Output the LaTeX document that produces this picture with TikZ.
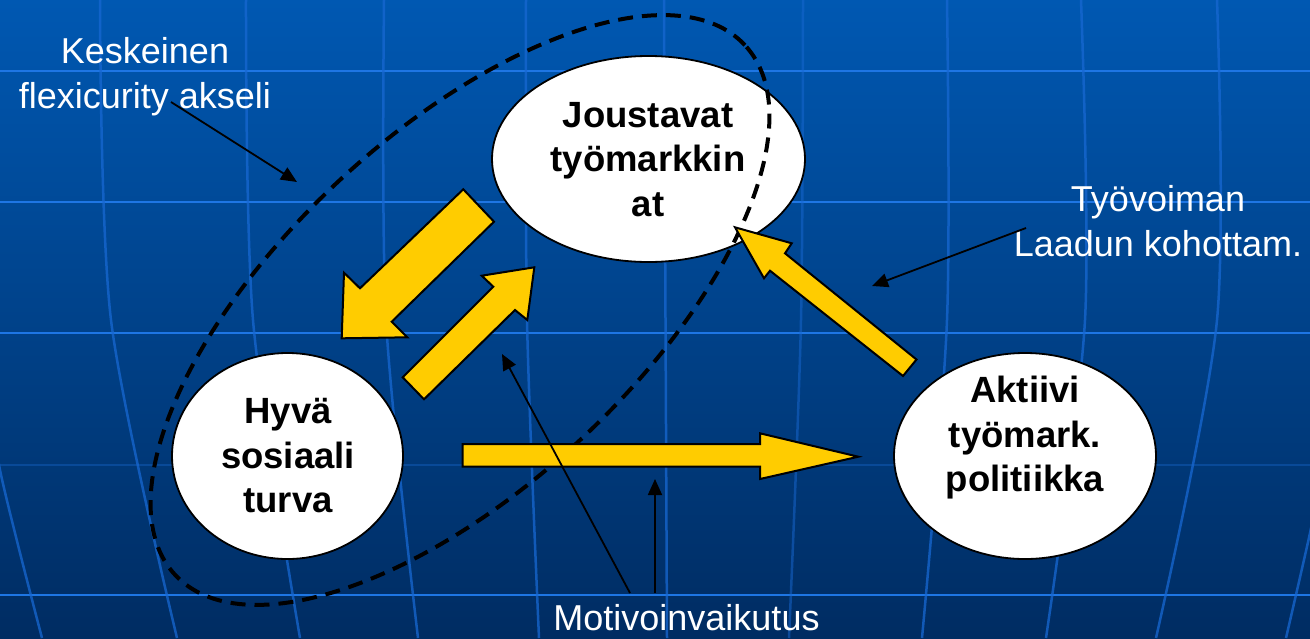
\documentclass[tikz,border=0pt]{standalone}
\usepackage{fontspec}
\setmainfont{Liberation Sans}
\usetikzlibrary{arrows.meta,shapes.geometric}
\definecolor{bgtop}{RGB}{0,88,178}
\definecolor{bgbot}{RGB}{0,44,98}
\definecolor{gridh}{RGB}{30,118,228}
\definecolor{gridv}{RGB}{24,104,210}
\definecolor{arrowyellow}{RGB}{255,204,0}
\begin{document}
\begin{tikzpicture}[x=1pt,y=-1pt,
 bubble/.style={ellipse, draw=black, line width=1.8pt, fill=white, inner sep=0pt, minimum height=206pt},
 bubtext/.style={font=\fontsize{36.5}{44.5}\selectfont\bfseries, align=center, text=black, inner sep=0pt},
 lbl/.style={font=\fontsize{36}{45}\selectfont, align=center, text=white, inner sep=0pt},
 blockarrow/.style={fill=arrowyellow, draw=black, line width=2pt, line join=miter},
 pointer/.style={draw=black, line width=1.8pt, -{Triangle[length=16pt,width=14pt]}},
 axisloop/.style={draw=black, line width=4pt, dash pattern=on 15pt off 9pt},
 hgrid/.style={draw=gridh, line width=2.8pt},
 vgrid/.style={draw=gridv, line width=2.5pt, opacity=0.75}]

% background
\useasboundingbox (0,0) rectangle (1310,638);
\shade[top color=bgtop, bottom color=bgbot] (0,0) rectangle (1310,638);
\begin{scope}
\clip (0,0) rectangle (1310,638);
\foreach \yy in {71,202,333,595} \draw[hgrid] (0,\yy) -- (1310,\yy);
\draw[hgrid, opacity=0.3] (0,465) -- (1310,465);
\draw[vgrid] plot[smooth] coordinates {(100,0) (111,320) (177,638)};
\draw[vgrid] plot[smooth] coordinates {(246,0) (253,320) (300,638)};
\draw[vgrid] plot[smooth] coordinates {(384,0) (386,320) (418,638)};
\draw[vgrid] plot[smooth] coordinates {(526,0) (527,320) (539,638)};
\draw[vgrid] (664,0) -- (667,638);
\draw[vgrid, opacity=0.5] plot[smooth] coordinates {(803,0) (801,320) (789,638)};
\draw[vgrid] plot[smooth] coordinates {(947,0) (947,320) (922,638)};
\draw[vgrid] plot[smooth] coordinates {(1081,0) (1085,320) (1046,638)};
\draw[vgrid] plot[smooth] coordinates {(1217,0) (1217,320) (1156,638)};
\draw[vgrid] plot[smooth] coordinates {(-10,380) (0,470) (42,638)};
\draw[vgrid] plot[smooth] coordinates {(1320,480) (1310,533) (1286,638)};
\end{scope}

% bubbles
\node[bubble, minimum width=313pt] (jous) at (648.5,159) {};
\node[bubble, minimum width=231pt] (hyva) at (287.5,456) {};
\node[bubble, minimum width=262pt] (akt) at (1025,456) {};
\node[bubtext] (joustxt) at (648,159.2) {Joustavat\\työmarkkin\\at};
\node[bubtext] (hyvatxt) at (288,456) {Hyvä\\sosiaali\\turva};
\node[bubtext] (akttxt) at (1025,438) {Aktiivi\\työmark.\\politiikka};

% dashed flexicurity axis loop
\draw[axisloop, rotate around={42.9:(460,310)}] (460,310) ellipse [x radius=389pt, y radius=177pt];

% block arrows
\draw[blockarrow] (463.3,189.3) -- (360,288.3) -- (344,272.7) -- (341.7,338.3)
  -- (407.3,337.3) -- (391.7,321.7) -- (494,221.7) -- cycle;
\draw[blockarrow] (402.7,377.3) -- (493.3,286.7) -- (481.7,275.7) -- (534.3,267.3)
  -- (527.3,320) -- (515,310) -- (424,399.3) -- cycle;
\draw[blockarrow] (916.5,359.5) -- (785,253.3) -- (791.7,243.3) -- (735,227.3)
  -- (764,278.3) -- (770,270.7) -- (903,376) -- cycle;
\draw[blockarrow] (462.7,444) -- (760,444) -- (760,433.3) -- (858.3,456.7)
  -- (760,479) -- (760,466.7) -- (462.7,466.7) -- cycle;

% labels
\node[lbl] (kesk) at (145,76.7) {Keskeinen\\flexicurity akseli};
\node[lbl] (tyov) at (1158,221.6) {Työvoiman\\Laadun kohottam.};
\node[lbl, anchor=base] (motiv) at (686.5,630) {Motivoinvaikutus};

% pointers
\coordinate (p1s) at (171,102);
\coordinate (p1e) at (297,182);
\coordinate (p2s) at (1026,228);
\coordinate (p2e) at (872,286);
\coordinate (p3s) at (630,593);
\coordinate (p3e) at (502,354);
\coordinate (p4s) at (655,593);
\coordinate (p4e) at (655,479);
\draw[pointer] (p1s) -- (p1e);
\draw[pointer] (p2s) -- (p2e);
\draw[pointer] (p3s) -- (p3e);
\draw[pointer] (p4s) -- (p4e);
\end{tikzpicture}
\end{document}
